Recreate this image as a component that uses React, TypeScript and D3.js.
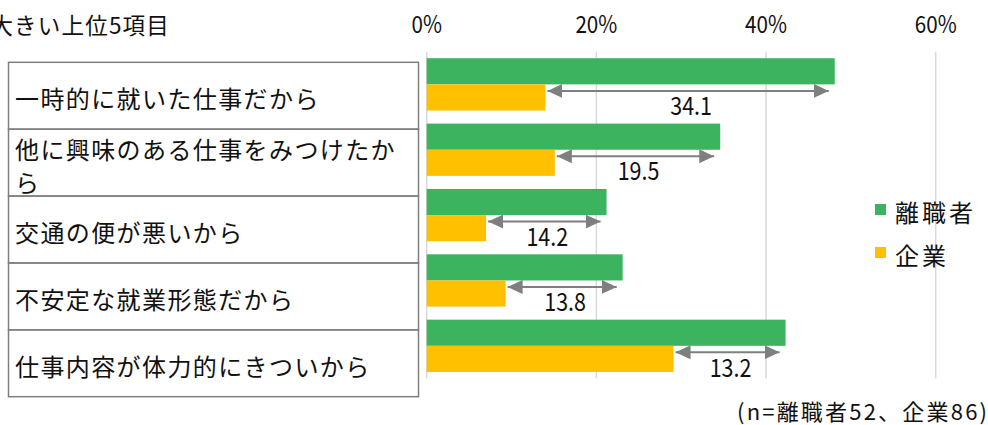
import * as d3 from "d3";

const categories = [
  "一時的に就いた仕事だから",
  "他に興味のある仕事をみつけたから",
  "交通の便が悪いから",
  "不安定な就業形態だから",
  "仕事内容が体力的にきついから",
];
const leavers = [48.1, 34.6, 21.2, 23.1, 42.3];
const companies = [14.0, 15.1, 7.0, 9.3, 29.1];
const gaps = ["34.1", "19.5", "14.2", "13.8", "13.2"];
const xTicks = [0, 20, 40, 60];
const seriesNames = ["離職者", "企業"];

const W = 988;
const H = 425;
const GREEN = "#3bb35f";
const YELLOW = "#ffc000";
const GRAY = "#7f7f7f";
const JP = "'Noto Sans CJK JP', 'Noto Sans', sans-serif";
const NARROW = 0.86;

// split a label into lines of at most 15 full-width chars
function wrap(s: string, n = 15) {
  const out: string[] = [];
  for (let i = 0; i < s.length; i += n) out.push(s.slice(i, i + n));
  return out;
}

export default function App() {
  const x = d3.scaleLinear().domain([0, 60]).range([426.7, 935.7]);
  const y = d3
    .scaleBand<string>()
    .domain(categories)
    .range([51.7, 378.5])
    .paddingInner(0.2)
    .paddingOuter(0.1);
  const box = d3.scaleBand<string>().domain(categories).range([62.3, 396.7]);
  const bh = y.bandwidth() / 2;
  const colors = [GREEN, YELLOW];

  return (
    <svg
      width={W}
      height={H}
      style={{ position: "absolute", left: 0, top: 0, background: "#fff" }}
      fontFamily={JP}
    >
      <defs>
        <marker
          id="ah"
          viewBox="0 0 15 14"
          refX="15"
          refY="7"
          markerWidth="15"
          markerHeight="14"
          markerUnits="userSpaceOnUse"
          orient="auto-start-reverse"
        >
          <path d="M0,0 L15,7 L0,14 Z" fill={GRAY} />
        </marker>
      </defs>

      {/* title, its start is cut by the left edge as in the source */}
      <text x={170} y={24} fontSize={22.5} letterSpacing={1.2} textAnchor="end" dominantBaseline="central" fill="#111">
        大きい上位5項目
      </text>

      {/* x ticks + grid */}
      {xTicks.map((t) => (
        <g key={t}>
          <line x1={x(t)} x2={x(t)} y1={51.7} y2={378.5} stroke="#d9d9d9" strokeWidth={1.5} />
          <text
            transform={`translate(${x(t)},22) scale(${NARROW},1)`}
            fontSize={24}
            textAnchor="middle"
            dominantBaseline="central"
            fill="#111"
          >
            {t}%
          </text>
        </g>
      ))}

      {/* bars */}
      {categories.map((c, i) => (
        <g key={c}>
          <rect x={x(0)} y={y(c)!} width={x(leavers[i]) - x(0)} height={bh} fill={GREEN} />
          <rect x={x(0)} y={y(c)! + bh} width={x(companies[i]) - x(0)} height={bh} fill={YELLOW} />
        </g>
      ))}

      {/* gap arrows */}
      {categories.map((c, i) => {
        const x1 = x(companies[i]) + 2;
        const x2 = x(leavers[i]) - 6;
        const ay = y(c)! + bh + 6.5;
        return (
          <g key={c}>
            <line
              x1={x1}
              x2={x2}
              y1={ay}
              y2={ay}
              stroke={GRAY}
              strokeWidth={2}
              markerStart="url(#ah)"
              markerEnd="url(#ah)"
            />
            <text
              transform={`translate(${(x1 + x2) / 2 + 3},${ay + 13.5}) scale(${NARROW},1)`}
              fontSize={25}
              textAnchor="middle"
              dominantBaseline="central"
              fill="#111"
            >
              {gaps[i]}
            </text>
          </g>
        );
      })}

      {/* category boxes */}
      {categories.map((c) => {
        const lines = wrap(c);
        const cy = box(c)! + box.bandwidth() / 2 + 2;
        return (
          <g key={c}>
            <rect
              x={8.5}
              y={box(c)!}
              width={410}
              height={box.bandwidth()}
              fill="none"
              stroke={GRAY}
              strokeWidth={1.5}
            />
            {lines.map((l, j) => (
              <text
                key={j}
                x={15}
                y={cy + (j - (lines.length - 1) / 2) * 33}
                fontSize={24}
                letterSpacing={1.4}
                dominantBaseline="central"
                fill="#111"
              >
                {l}
              </text>
            ))}
          </g>
        );
      })}

      {/* legend */}
      {seriesNames.map((s, i) => (
        <g key={s} transform={`translate(875,${204 + i * 43})`}>
          <rect width={11} height={11} fill={colors[i]} />
          <text x={20} y={7} fontSize={24} letterSpacing={3} dominantBaseline="central" fill="#111">
            {s}
          </text>
        </g>
      ))}

      {/* footnote */}
      <text
        x={987}
        y={410}
        fontSize={22}
        textAnchor="end"
        textLength={250}
        lengthAdjust="spacing"
        dominantBaseline="central"
        fill="#111"
      >
        (n=離職者52、企業86)
      </text>
    </svg>
  );
}
